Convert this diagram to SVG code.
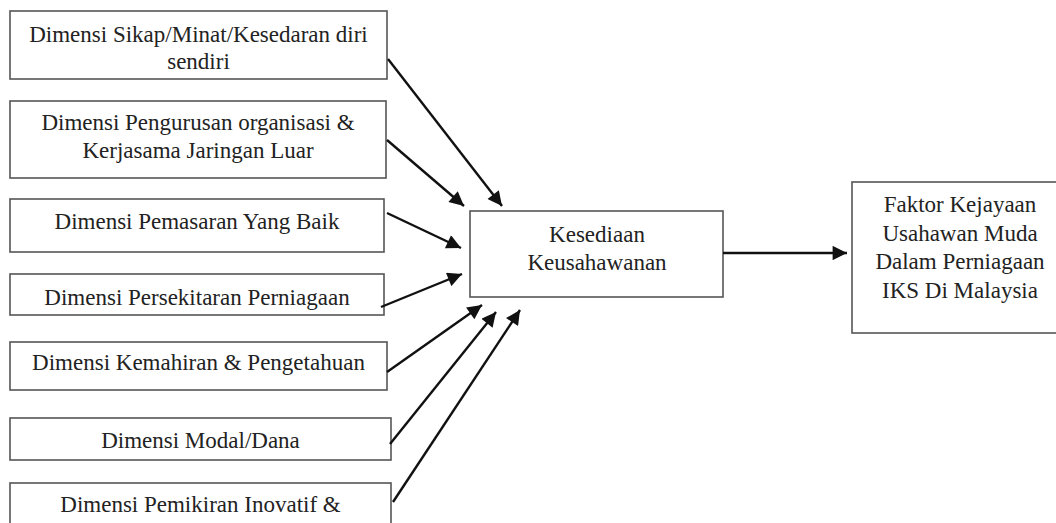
<svg xmlns="http://www.w3.org/2000/svg" width="1056" height="523" viewBox="0 0 1056 523">
<defs>
<style>
.box{fill:#fff;stroke:#555;stroke-width:1.6}
.t{font-family:'Liberation Serif','Times New Roman',Times,serif;font-size:23px;fill:#222;text-anchor:middle}
.c{stroke:#111;stroke-width:2.4;fill:none;marker-end:url(#ah)}
</style>
<marker id="ah" viewBox="0 0 10 10" refX="10" refY="5" markerWidth="7.5" markerHeight="6" markerUnits="strokeWidth" orient="auto">
<path d="M0,0 L10,5 L0,10 z" fill="#111"/>
</marker>
</defs>
<rect width="1056" height="523" fill="#fff"/>
<g id="n1"><rect class="box" x="10" y="11" width="377" height="68"/><text class="t" x="198.5" y="42">Dimensi Sikap/Minat/Kesedaran diri</text><text class="t" x="198.5" y="69">sendiri</text></g>
<g id="n2"><rect class="box" x="10" y="101" width="376" height="77"/><text class="t" x="198" y="130">Dimensi Pengurusan organisasi &amp;</text><text class="t" x="198" y="158">Kerjasama Jaringan Luar</text></g>
<g id="n3"><rect class="box" x="10" y="199" width="374" height="53"/><text class="t" x="197" y="229">Dimensi Pemasaran Yang Baik</text></g>
<g id="n4"><rect class="box" x="10" y="274" width="374" height="41"/><text class="t" x="197" y="305">Dimensi Persekitaran Perniagaan</text></g>
<g id="n5"><rect class="box" x="10" y="342" width="377" height="48"/><text class="t" x="198.5" y="370">Dimensi Kemahiran &amp; Pengetahuan</text></g>
<g id="n6"><rect class="box" x="10" y="418" width="381" height="42"/><text class="t" x="200.5" y="448">Dimensi Modal/Dana</text></g>
<g id="n7"><rect class="box" x="10" y="483" width="381" height="60"/><text class="t" x="200.5" y="512">Dimensi Pemikiran Inovatif &amp;</text></g>
<g id="center"><rect class="box" x="470" y="211" width="253" height="86"/><text class="t" x="597" y="242">Kesediaan</text><text class="t" x="597" y="270">Keusahawanan</text></g>
<g id="outcome"><rect class="box" x="852" y="182" width="210" height="151"/><text class="t" x="960" y="212">Faktor Kejayaan</text><text class="t" x="960" y="240.5">Usahawan Muda</text><text class="t" x="960" y="269">Dalam Perniagaan</text><text class="t" x="960" y="297.5">IKS Di Malaysia</text></g>
<g id="connectors">
<line class="c" x1="388" y1="59" x2="502" y2="206"/>
<line class="c" x1="387" y1="140" x2="464" y2="206"/>
<line class="c" x1="387" y1="213" x2="461" y2="248"/>
<line class="c" x1="381" y1="307" x2="462" y2="274"/>
<line class="c" x1="387" y1="372" x2="482" y2="305"/>
<line class="c" x1="390" y1="444" x2="496" y2="312"/>
<line class="c" x1="393" y1="502" x2="520" y2="310"/>
<line class="c" x1="723" y1="253" x2="847" y2="253"/>
</g>
</svg>
